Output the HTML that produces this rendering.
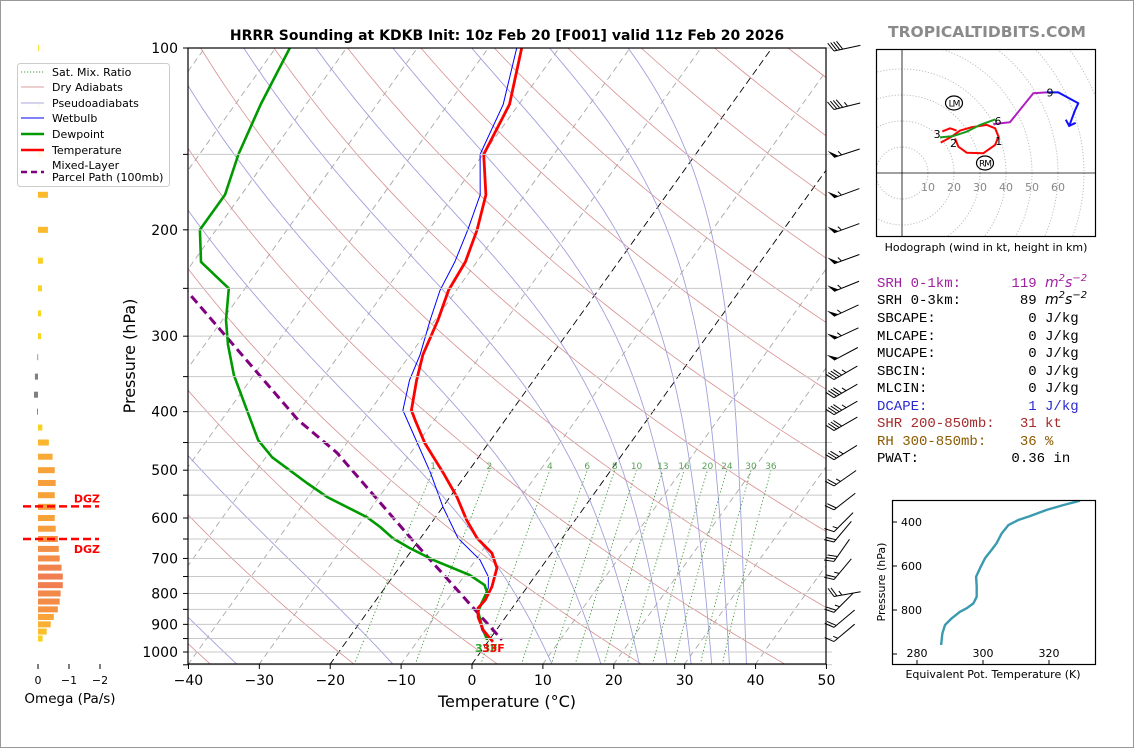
<!DOCTYPE html>
<html><head><meta charset="utf-8"><title>HRRR Sounding KDKB</title>
<style>
html,body{margin:0;padding:0;background:#fff;}
svg{display:block;font-family:"DejaVu Sans","Liberation Sans",sans-serif;}
.mono{font-family:"Liberation Mono","DejaVu Sans Mono",monospace;font-size:14px;}
</style></head><body>
<svg id="chart" width="1134" height="748" viewBox="0 0 1134 748" xmlns="http://www.w3.org/2000/svg">
<defs>
<clipPath id="skewClip"><rect x="188" y="48" width="638" height="616"/></clipPath>
<clipPath id="hodoClip"><rect x="876" y="49" width="220" height="188"/></clipPath>
<clipPath id="teClip"><rect x="892" y="500" width="204" height="164"/></clipPath>
</defs>
<rect x="0.5" y="0.5" width="1133" height="747" fill="#fff" stroke="#999"/>
<text x="507" y="40" text-anchor="middle" font-size="14" font-weight="bold">HRRR Sounding at KDKB Init: 10z Feb 20 [F001] valid 11z Feb 20 2026</text>
<text x="987" y="37" text-anchor="middle" font-size="15.5" font-weight="bold" fill="#8a8a8a">TROPICALTIDBITS.COM</text>
<g id="skewBg" clip-path="url(#skewClip)"></g>
<g id="skewData" clip-path="url(#skewClip)"></g>
<g id="skewAxes"></g>
<g id="barbs"></g>
<g id="omega"></g>
<g id="hodo"></g>
<g id="te"></g>

<g>
<rect x="17.5" y="63.5" width="152" height="123" rx="3" fill="#fff" fill-opacity="0.9" stroke="#ccc"/>
<line x1="21" y1="72" x2="44" y2="72" stroke="#4a9a4a" stroke-dasharray="1.2,1.8"/>
<text x="52" y="76" font-size="11">Sat. Mix. Ratio</text>
<line x1="21" y1="87" x2="44" y2="87" stroke="#d8a0a0"/>
<text x="52" y="91" font-size="11">Dry Adiabats</text>
<line x1="21" y1="103" x2="44" y2="103" stroke="#aaaadd"/>
<text x="52" y="107" font-size="11">Pseudoadiabats</text>
<line x1="21" y1="118" x2="44" y2="118" stroke="#0000ff"/>
<text x="52" y="122" font-size="11">Wetbulb</text>
<line x1="21" y1="134" x2="44" y2="134" stroke="#009a00" stroke-width="2.5"/>
<text x="52" y="138" font-size="11">Dewpoint</text>
<line x1="21" y1="150" x2="44" y2="150" stroke="#ff0000" stroke-width="2.5"/>
<text x="52" y="154" font-size="11">Temperature</text>
<line x1="21" y1="172" x2="44" y2="172" stroke="#800080" stroke-width="2.5" stroke-dasharray="6,4"/>
<text x="52" y="169" font-size="11">Mixed-Layer</text>
<text x="52" y="181" font-size="11">Parcel Path (100mb)</text>
</g>

<g class="mono">
<text x="877" y="287" fill="#a020a0" xml:space="preserve">SRH 0-1km:      119 <tspan font-style="italic" font-family="DejaVu Sans">m</tspan><tspan font-style="italic" font-family="DejaVu Sans" font-size="10" dy="-6">2</tspan><tspan font-style="italic" font-family="DejaVu Sans" dy="6">s</tspan><tspan font-style="italic" font-family="DejaVu Sans" font-size="10" dy="-6">−2</tspan></text>
<text x="877" y="304" fill="#000" xml:space="preserve">SRH 0-3km:       89 <tspan font-style="italic" font-family="DejaVu Sans">m</tspan><tspan font-style="italic" font-family="DejaVu Sans" font-size="10" dy="-6">2</tspan><tspan font-style="italic" font-family="DejaVu Sans" dy="6">s</tspan><tspan font-style="italic" font-family="DejaVu Sans" font-size="10" dy="-6">−2</tspan></text>
<text x="877" y="322" xml:space="preserve">SBCAPE:           0 J/kg</text>
<text x="877" y="340" xml:space="preserve">MLCAPE:           0 J/kg</text>
<text x="877" y="357" xml:space="preserve">MUCAPE:           0 J/kg</text>
<text x="877" y="375" xml:space="preserve">SBCIN:            0 J/kg</text>
<text x="877" y="392" xml:space="preserve">MLCIN:            0 J/kg</text>
<text x="877" y="410" fill="#2a2ad0" xml:space="preserve">DCAPE:            1 J/kg</text>
<text x="877" y="427" fill="#a52a2a" xml:space="preserve">SHR 200-850mb:   31 kt</text>
<text x="877" y="445" fill="#8b5a00" xml:space="preserve">RH 300-850mb:    36 %</text>
<text x="877" y="462" xml:space="preserve">PWAT:           0.36 in</text>
</g>
</svg>
<script>
// ---------------- DATA ----------------
const tempP = [100,124,150,175,200,226,252,282,322,355,398,413,451,505,554,605,648,686,726,780,820,846,875,919,962];
const tempT = [-55.3,-51.3,-49.9,-45.5,-43.2,-41.6,-41.1,-39.6,-38.2,-36.5,-34.2,-32.7,-29.0,-23.4,-19.0,-15.3,-12.0,-8.4,-6.2,-5.0,-4.6,-4.8,-3.9,-1.9,0.7];
const dewP = [100,124,150,175,200,226,250,282,310,348,398,446,476,525,554,598,621,648,673,704,746,775,795,830,858,909,955];
const dewT = [-88.0,-86.4,-84.5,-82.3,-82.3,-78.9,-72.3,-69.5,-66.7,-62.8,-57.4,-52.8,-49.1,-41.6,-37.3,-29.7,-26.8,-23.9,-20.5,-16.0,-9.3,-6.2,-5.2,-4.8,-4.4,-2.3,-0.3];
const wbP = [100,124,150,175,200,226,252,282,322,355,398,434,505,575,648,704,751,783,830,858,919,955];
const wbT = [-56.0,-52.2,-50.4,-46.3,-44.5,-43.1,-42.3,-40.7,-38.6,-37.5,-35.4,-31.7,-25.2,-20.0,-14.7,-9.4,-6.5,-5.4,-4.7,-4.5,-2.1,-0.2];
const parcelP = [230,254,413,468,653,955];
const parcelT = [-84,-77.6,-49.2,-40.4,-20.9,1.8];
const pressureTicks = [100,200,300,400,500,600,700,800,900,1000];
const tempTicks = [-40,-30,-20,-10,0,10,20,30,40,50];
const mixRatios = [1,2,4,6,8,10,13,16,20,24,30,36];
const dryThetaC = [-60,-40,-20,0,20,40,60,80,100,120,140,160,180,200,220,240];
const moistT1050 = [-33,-11,11.4,18.3,23.7,27.6,31,33.9,36.4,38.8];
const omegaP = [100,125,150,175,200,225,250,275,300,325,350,375,400,425,450,475,500,525,550,575,600,625,650,675,700,725,750,775,800,825,850,875,900,925,950];
const omegaV = [-0.03,-0.06,-0.16,-0.32,-0.32,-0.16,-0.13,-0.1,-0.1,0.02,0.1,0.13,0.03,-0.14,-0.35,-0.47,-0.54,-0.57,-0.54,-0.57,-0.54,-0.57,-0.64,-0.67,-0.70,-0.76,-0.80,-0.80,-0.73,-0.70,-0.64,-0.51,-0.41,-0.28,-0.15];
const omegaTicks = [0,-1,-2];
const dgzP = [574,650];
const barbP = [100,125,150,175,200,225,250,275,300,325,350,375,400,425,475,525,575,625,650,700,750,800,850,900,950];
const barbSpd = [40,45,55,55,55,55,55,55,55,50,45,45,45,40,35,25,20,15,20,30,25,25,25,20,15];
const barbAng = [12,14,18,20,20,20,22,25,25,28,30,30,30,30,32,35,38,45,50,55,50,10,45,40,40];
const hodoRedU = [14.9,19.1,22.3,26.8,32.6,35.8,37.1,35.8,31.3,24.9,21.7,20.4];
const hodoRedV = [11.7,14.0,16.3,17.6,18.5,17.2,14.0,10.8,7.6,7.8,10.1,13.3];
const hodoRed2U = [15.5,18.5,21.0];
const hodoRed2V = [16.0,17.2,16.3];
const hodoGreenU = [14.6,19.7,24.9,30.0,35.8];
const hodoGreenV = [13.7,14.2,15.9,18.5,20.6];
const hodoMagU = [35.1,41.5,50.5,55.6];
const hodoMagV = [18.8,19.5,30.7,31.0];
const hodoBlueU = [55.6,60.1,67.8,66.5,64.3];
const hodoBlueV = [31.0,31.0,26.8,24.0,18.1];
const hodoRings = [10,20,30,40,50,60,70,80,90,100];
const hodoRingLabels = [10,20,30,40,50,60];
const hodoMarkLabels = ['1','2','3','6','9'];
const hodoMarkU = [37.2,19.8,13.5,36.9,56.9];
const hodoMarkV = [12.3,11.5,15.0,20.0,31.0];
const thetaEP = [959,906,868,838,808,792,770,740,694,649,610,565,527,497,451,414,391,373,345,323,303];
const thetaEV = [287.3,287.7,288.5,290.5,293.0,295.1,297.1,298.1,298.1,297.9,299.1,300.6,302.6,304.1,305.7,307.7,310.7,314.2,319.3,324.3,329.4];
const teXTicks = [280,300,320];
const teYTicks = [400,600,800,1000];

// ---------------- HELPERS ----------------
const NS = 'http://www.w3.org/2000/svg';
function mk(tag, attrs, parent){ const e=document.createElementNS(NS,tag); for(const k in attrs) e.setAttribute(k,attrs[k]); parent.appendChild(e); return e; }
function yP(p){ return 48 + Math.log10(p/100)*604; }
function xT(T,p){ return 472 + T*7.089 + (664 - yP(p))*0.717; }
function pathFrom(ps,ts){ let d=''; for(let i=0;i<ps.length;i++){ d+=(i?'L':'M')+xT(ts[i],ps[i]).toFixed(1)+','+yP(ps[i]).toFixed(1);} return d; }
function es(Tc){ return 6.112*Math.exp(17.67*Tc/(Tc+243.5)); }

const bg = document.getElementById('skewBg');
const dataG = document.getElementById('skewData');
const axG = document.getElementById('skewAxes');

for(let p=100;p<=1050;p+=50){
  const y=yP(p);
  const l=mk('line',{x1:188,x2:832,y1:y,y2:y,stroke:'#c8c8c8','stroke-width':1},axG);
  
  
}
for(let T=-120;T<=50;T+=10){
  const isBlack=(T===-20||T===0);
  const l=mk('line',{x1:xT(T,1050),y1:yP(1050),x2:xT(T,100),y2:yP(100),stroke:isBlack?'#000':'#a8a8a8','stroke-width':0.9,'stroke-dasharray':isBlack?'7,4':'6,4'},bg);
  
  
}
dryThetaC.forEach(tc=>{
  const th=tc+273.15; let d='';
  for(let p=1050;p>=100;p-=10){ const T=th*Math.pow(p/1000,0.2857)-273.15; d+=(p===1050?'M':'L')+xT(T,p).toFixed(1)+','+yP(p).toFixed(1); }
  const l=mk('path',{d:d,fill:'none',stroke:'#d89090','stroke-width':0.8},bg);
  
  
});
moistT1050.forEach(t0=>{
  let T=t0+273.15, p=1050, d='M'+xT(t0,p).toFixed(1)+','+yP(p).toFixed(1);
  const Rd=287.04,Cp=1005.7,Lv=2.501e6,eps=0.622, dp=-2;
  while(p>100){
    const Tc=T-273.15; const e=es(Tc); const rs=eps*e/(p-e);
    const dTdp=(Rd*T+Lv*rs)/(p*(Cp+Lv*Lv*rs*eps/(Rd*T*T)));
    T+=dTdp*dp; p+=dp;
    d+='L'+xT(T-273.15,p).toFixed(1)+','+yP(p).toFixed(1);
  }
  const l=mk('path',{d:d,fill:'none',stroke:'#a0a0dc','stroke-width':0.9},bg);
  
  
});
mixRatios.forEach(w=>{
  let d='';
  for(let p=1050;p>=500;p-=10){ const e=w*p/(622+w); const a=Math.log(e/6.112); const Td=243.5*a/(17.67-a); d+=(p===1050?'M':'L')+xT(Td,p).toFixed(1)+','+yP(p).toFixed(1); }
  const l=mk('path',{d:d,fill:'none',stroke:'#3c963c','stroke-width':0.9,'stroke-dasharray':'1.3,2.2'},bg);
  
  
  const e=w*500/(622+w); const a=Math.log(e/6.112); const Td=243.5*a/(17.67-a);
  const t=mk('text',{x:xT(Td,500),y:yP(500)-1,'font-size':9,fill:'#5aa05a','text-anchor':'middle'},bg);
  
  
  t.textContent=String(w);
});

const parcel=mk('path',{d:pathFrom(parcelP,parcelT),fill:'none',stroke:'#800080','stroke-width':3,'stroke-dasharray':'9,5'},dataG);


const wb=mk('path',{d:pathFrom(wbP,wbT),fill:'none',stroke:'#0000ff','stroke-width':1},dataG);


const dew=mk('path',{d:pathFrom(dewP,dewT),fill:'none',stroke:'#009a00','stroke-width':2.6,'stroke-linejoin':'round'},dataG);


const tmp=mk('path',{d:pathFrom(tempP,tempT),fill:'none',stroke:'#ff0000','stroke-width':2.8,'stroke-linejoin':'round'},dataG);


const sfcD=mk('text',{x:475,y:652,'font-size':11,'font-weight':'bold',fill:'#22aa22'},axG);


sfcD.textContent='33F';
const sfcT=mk('text',{x:482,y:652,'font-size':11,'font-weight':'bold',fill:'#ff0000'},axG);


sfcT.textContent='33F';

const frame=mk('rect',{x:188,y:48,width:638,height:616,fill:'none',stroke:'#000','stroke-width':1.2},axG);


for(let p=100;p<=1050;p+=50){
  const tk=mk('line',{x1:183,x2:188,y1:yP(p),y2:yP(p),stroke:'#000'},axG);
  
  
}
pressureTicks.forEach(p=>{
  const t=mk('text',{x:178,y:yP(p)+5,'font-size':14,'text-anchor':'end'},axG);
  
  
  t.textContent=String(p);
});
tempTicks.forEach(T=>{
  const x=472+T*7.089;
  const tk=mk('line',{x1:x,x2:x,y1:664,y2:669,stroke:'#000'},axG);
  
  
  const t=mk('text',{x:x,y:685,'font-size':14,'text-anchor':'middle'},axG);
  
  
  t.textContent=(T<0?'\u2212':'')+Math.abs(T);
});
const xl=mk('text',{x:507,y:707,'font-size':16,'text-anchor':'middle'},axG);


xl.textContent='Temperature (°C)';
const yl=mk('text',{x:0,y:0,'font-size':16,'text-anchor':'middle',transform:'translate(135,356) rotate(-90)'},axG);


yl.textContent='Pressure (hPa)';

const bG=document.getElementById('barbs');
barbP.forEach((p,i)=>{
  const y=yP(p), a=barbAng[i]*Math.PI/180;
  const dx=Math.cos(a), dy=-Math.sin(a);
  const x0=834, y0=y+3;
  const st=mk('line',{x1:x0,y1:y0,x2:x0+27*dx,y2:y0+27*dy,stroke:'#000','stroke-width':1},bG);
  
  
  const fx=(-Math.sin(a))*0.9 - dx*0.45, fy=(-Math.cos(a))*0.9 - dy*0.45;
  let s=Math.round(barbSpd[i]/5)*5, pos=0;
  while(s>=50){
    const ax1=x0+pos*dx, ay1=y0+pos*dy;
    const tri=mk('polygon',{points:`${ax1},${ay1} ${ax1+5*dx},${ay1+5*dy} ${ax1+9*fx},${ay1+9*fy}`,fill:'#000'},bG);
    
    
    s-=50; pos+=6;
  }
  while(s>=10){
    const ax1=x0+pos*dx, ay1=y0+pos*dy;
    const f=mk('line',{x1:ax1,y1:ay1,x2:ax1+10*fx,y2:ay1+10*fy,stroke:'#000','stroke-width':1},bG);
    
    
    s-=10; pos+=3;
  }
  if(s>=5){
    const ax1=x0+(pos+2)*dx, ay1=y0+(pos+2)*dy;
    const f=mk('line',{x1:ax1,y1:ay1,x2:ax1+5*fx,y2:ay1+5*fy,stroke:'#000','stroke-width':1},bG);
    
    
  }
});

const oG=document.getElementById('omega');
function oX(w){ return 38 - w*31; }
function omegaColor(w){
  if(w>0) return '#808080';
  const m=-w;
  const stops=[[0,[247,228,28]],[0.3,[251,188,44]],[0.55,[247,160,58]],[0.8,[240,126,80]]];
  for(let i=1;i<stops.length;i++){ if(m<=stops[i][0]){ const f=(m-stops[i-1][0])/(stops[i][0]-stops[i-1][0]); const c=stops[i-1][1].map((v,k)=>Math.round(v+(stops[i][1][k]-v)*f)); return `rgb(${c})`; } }
  return 'rgb(240,126,80)';
}
omegaP.forEach((p,i)=>{
  const x1=oX(0), x2=oX(omegaV[i]);
  const r=mk('rect',{x:Math.min(x1,x2),y:yP(p)-3,width:Math.max(Math.abs(x2-x1),0.8),height:6,fill:omegaColor(omegaV[i])},oG);
  
  
});
dgzP.forEach((p,i)=>{
  const l=mk('line',{x1:23,x2:99,y1:yP(p),y2:yP(p),stroke:'#ff0000','stroke-width':2.5,'stroke-dasharray':'8,4'},oG);
  
  
  const t=mk('text',{x:100,y:i===0?yP(p)-4:yP(p)+14,'font-size':11,'font-weight':'bold',fill:'#ff0000','text-anchor':'end'},oG);
  
  
  t.textContent='DGZ';
});
omegaTicks.forEach(w=>{
  const tk=mk('line',{x1:oX(w),x2:oX(w),y1:664,y2:669,stroke:'#000'},oG);
  
  
  const t=mk('text',{x:oX(w),y:684,'font-size':11,'text-anchor':'middle'},oG);
  
  
  t.textContent=(w<0?'\u2212':'')+Math.abs(w);
});
const ol=mk('text',{x:70,y:703,'font-size':13.5,'text-anchor':'middle'},oG);


ol.textContent='Omega (Pa/s)';

const hG=document.getElementById('hodo');
function hx(u){ return 902+u*2.6; }
function hy(v){ return 173-v*2.6; }
const hBox=mk('rect',{x:876,y:49,width:220,height:188,fill:'#fff',stroke:'none'},hG);


const hc=mk('g',{'clip-path':'url(#hodoClip)'},hG);
hodoRings.forEach(r=>{
  const c=mk('circle',{cx:hx(0),cy:hy(0),r:r*2.6,fill:'none',stroke:'#b8b8b8','stroke-width':0.9,'stroke-dasharray':'1.2,1.8'},hc);
  
  
});
const ax1=mk('line',{x1:hx(0),x2:hx(0),y1:49,y2:237,stroke:'#000','stroke-width':0.8},hc);


const ax2=mk('line',{x1:876,x2:1096,y1:hy(0),y2:hy(0),stroke:'#000','stroke-width':0.8},hc);


hodoRingLabels.forEach(r=>{
  const t=mk('text',{x:hx(r),y:191,'font-size':11,fill:'#888','text-anchor':'middle'},hG);
  
  
  t.textContent=String(r);
});
function hpath(us,vs){ let d=''; us.forEach((u,i)=>{ d+=(i?'L':'M')+hx(u).toFixed(1)+','+hy(vs[i]).toFixed(1); }); return d; }
[[hodoRedU,hodoRedV,'#ff0000','hodo-0-3km'],[hodoRed2U,hodoRed2V,'#ff0000','hodo-0-3km-b'],[hodoGreenU,hodoGreenV,'#1a9a1a','hodo-3-6km'],[hodoMagU,hodoMagV,'#b020c0','hodo-6-9km'],[hodoBlueU,hodoBlueV,'#1010ff','hodo-9-12km']].forEach(s=>{
  const l=mk('path',{d:hpath(s[0],s[1]),fill:'none',stroke:s[2],'stroke-width':2,'stroke-linejoin':'round'},hc);
  
  
});
const arr=mk('path',{d:`M${hx(63)},${hy(20.5)}L${hx(64.3)},${hy(18.1)}L${hx(66.8)},${hy(19.3)}`,fill:'none',stroke:'#1010ff','stroke-width':2},hc);


hodoMarkLabels.forEach((s,i)=>{
  const t=mk('text',{x:hx(hodoMarkU[i]),y:hy(hodoMarkV[i])+4,'font-size':11,'text-anchor':'middle',fill:'#000'},hG);
  
  
  t.textContent=s;
});
[['LM',954,103],['RM',985,163]].forEach(m=>{
  const e=mk('ellipse',{cx:m[1],cy:m[2],rx:8.5,ry:7,fill:'#fff',stroke:'#000','stroke-width':1.2},hG);
  
  
  const t=mk('text',{x:m[1],y:m[2]+3.5,'font-size':9,'text-anchor':'middle',fill:'#000','letter-spacing':'-1'},hG);
  
  
  t.textContent=m[0];
});
const hFrame=mk('rect',{x:876.5,y:49.5,width:219,height:187,fill:'none',stroke:'#000','stroke-width':1.2},hG);


const hCap=mk('text',{x:986,y:251,'font-size':11,'text-anchor':'middle'},hG);


hCap.textContent='Hodograph (wind in kt, height in km)';

const tG=document.getElementById('te');
function teX(th){ return 917+(th-280)*3.3; }
function teY(p){ return 522+(p-400)*0.22; }
const tClip=mk('g',{'clip-path':'url(#teClip)'},tG);
let td=''; thetaEP.forEach((p,i)=>{ td+=(i?'L':'M')+teX(thetaEV[i]).toFixed(1)+','+teY(p).toFixed(1); });
const tl=mk('path',{d:td,fill:'none',stroke:'#3a9ab0','stroke-width':2.4,'stroke-linejoin':'round'},tClip);


const tF=mk('rect',{x:892.5,y:500.5,width:203,height:164,fill:'none',stroke:'#000','stroke-width':1.2},tG);


teXTicks.forEach(v=>{
  const tk=mk('line',{x1:teX(v),x2:teX(v),y1:660,y2:664,stroke:'#000'},tG);
  
  
  const t=mk('text',{x:teX(v),y:657,'font-size':11,'text-anchor':'middle'},tG);
  
  
  t.textContent=String(v);
});
teYTicks.forEach(v=>{
  const tk=mk('line',{x1:893,x2:897,y1:teY(v),y2:teY(v),stroke:'#000'},tG);
  
  
  if(v<1000){
    const t=mk('text',{x:901,y:teY(v)+4,'font-size':11},tG);
    
    
    t.textContent=String(v);
  }
});
const tx=mk('text',{x:993,y:678,'font-size':11,'text-anchor':'middle'},tG);


tx.textContent='Equivalent Pot. Temperature (K)';
const ty=mk('text',{x:0,y:0,'font-size':11,'text-anchor':'middle',transform:'translate(885,582) rotate(-90)'},tG);


ty.textContent='Pressure (hPa)';
</script>
</body></html>
